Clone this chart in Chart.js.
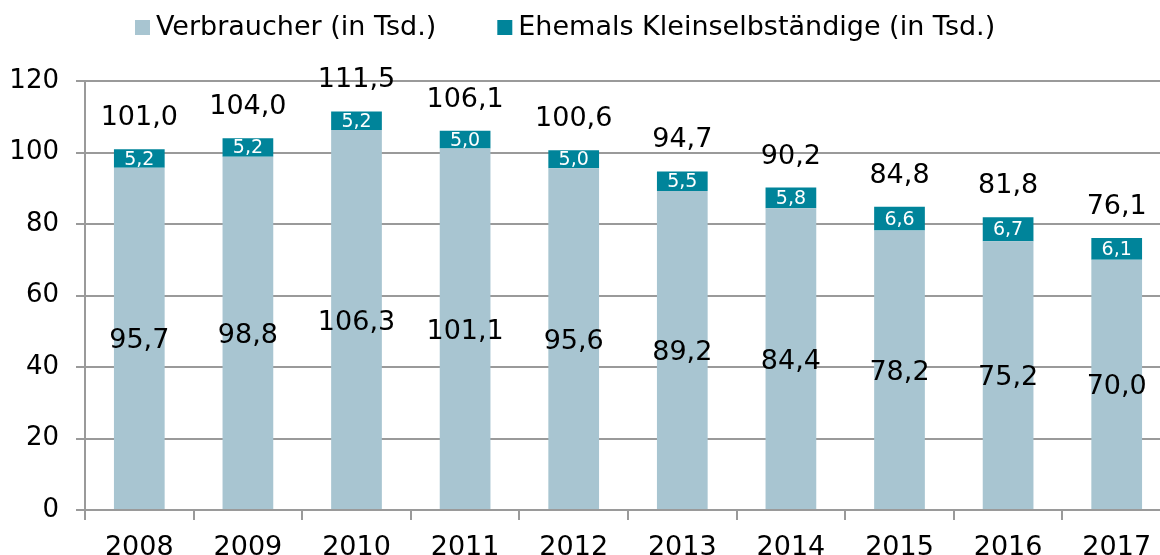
<!DOCTYPE html>
<html><head><meta charset="utf-8">
<script src="https://cdn.jsdelivr.net/npm/chart.js@4/dist/chart.umd.min.js"></script>
<style>
html,body{margin:0;padding:0;overflow:hidden;background:#fff;width:1160px;height:555px}
#wrap{position:absolute;left:0;top:0;width:1180px;height:575px}
</style>
</head><body>
<div id="wrap"><canvas id="c" width="1180" height="575"></canvas></div>
<script>
const categories = ['2008','2009','2010','2011','2012','2013','2014','2015','2016','2017'];
const verbraucher = [95.7, 98.8, 106.3, 101.1, 95.6, 89.2, 84.4, 78.2, 75.2, 70.0];
const ehemals = [5.2, 5.2, 5.2, 5.0, 5.0, 5.5, 5.8, 6.6, 6.7, 6.1];
const totals = [101.0, 104.0, 111.5, 106.1, 100.6, 94.7, 90.2, 84.8, 81.8, 76.1];
const yTickValues = [0, 20, 40, 60, 80, 100, 120];
const seriesNames = ['Verbraucher (in Tsd.)', 'Ehemals Kleinselbständige (in Tsd.)'];

const LIGHT = '#a8c5d1';
const TEAL = '#00849a';
const GRID = '#9a9a9a';
const FONT = '"DejaVu Sans", Verdana, sans-serif';
const fmt = v => v.toFixed(1).replace('.', ',');

const labelPlugin = {
  id: 'valueLabels',
  afterDatasetsDraw(chart) {
    const ctx = chart.ctx;
    const m0 = chart.getDatasetMeta(0), m1 = chart.getDatasetMeta(1);
    ctx.save();
    ctx.textAlign = 'center';
    ctx.textBaseline = 'middle';
    m0.data.forEach((el, i) => {
      const p = el.getProps(['x', 'y', 'base'], true);
      ctx.font = '27px ' + FONT;
      ctx.fillStyle = '#000';
      ctx.fillText(fmt(verbraucher[i]), p.x, (p.y + p.base) / 2 + 3);
    });
    m1.data.forEach((el, i) => {
      const p = el.getProps(['x', 'y', 'base'], true);
      ctx.font = '19px ' + FONT;
      ctx.fillStyle = '#fff';
      ctx.fillText(fmt(ehemals[i]), p.x, (p.y + p.base) / 2 + 1);
      ctx.font = '27px ' + FONT;
      ctx.fillStyle = '#000';
      ctx.fillText(fmt(totals[i]), p.x, p.y - 31);
    });
    ctx.restore();
  },
  afterDraw(chart) {
    const ctx = chart.ctx;
    ctx.save();
    ctx.font = '27px ' + FONT;
    ctx.textBaseline = 'middle';
    ctx.textAlign = 'left';
    let x = 135;
    const cy = 28;
    chart.data.datasets.forEach((ds, i) => {
      ctx.fillStyle = ds.backgroundColor;
      ctx.fillRect(x, cy - 8, 15, 15);
      x += 15 + 6;
      ctx.fillStyle = '#000';
      ctx.fillText(ds.label, x, cy);
      x += ctx.measureText(ds.label).width + 61;
    });
    ctx.restore();
  }
};

new Chart(document.getElementById('c'), {
  type: 'bar',
  data: {
    labels: categories,
    datasets: [
      { label: seriesNames[0], data: verbraucher, backgroundColor: LIGHT, stack: 's' },
      { label: seriesNames[1], data: ehemals, backgroundColor: TEAL, stack: 's' }
    ]
  },
  options: {
    responsive: false,
    animation: false,
    devicePixelRatio: 1,
    layout: { padding: { top: 81, right: 9, left: 0, bottom: 0 } },
    datasets: { bar: { barPercentage: 0.467, categoryPercentage: 1.0 } },
    plugins: { legend: { display: false }, tooltip: { enabled: false } },
    scales: {
      x: {
        stacked: true,
        offset: true,
        grid: { display: true, drawOnChartArea: false, drawTicks: true, tickLength: 10, color: GRID, lineWidth: 2, offset: true },
        border: { display: true, color: GRID, width: 2 },
        ticks: { color: '#000', font: { family: FONT, size: 27 }, padding: 12, maxRotation: 0 },
        afterFit(scale) { scale.height = 575 - 510; }
      },
      y: {
        stacked: true,
        min: 0, max: 120,
        afterBuildTicks(scale) { scale.ticks = yTickValues.map(v => ({ value: v })); },
        grid: { color: GRID, lineWidth: 2, tickLength: 9, drawTicks: true },
        border: { display: true, color: GRID, width: 2 },
        ticks: { color: '#000', font: { family: FONT, size: 26 }, padding: 17 },
        afterFit(scale) { scale.width = 85; }
      }
    }
  },
  plugins: [labelPlugin]
});
</script>
</body></html>
